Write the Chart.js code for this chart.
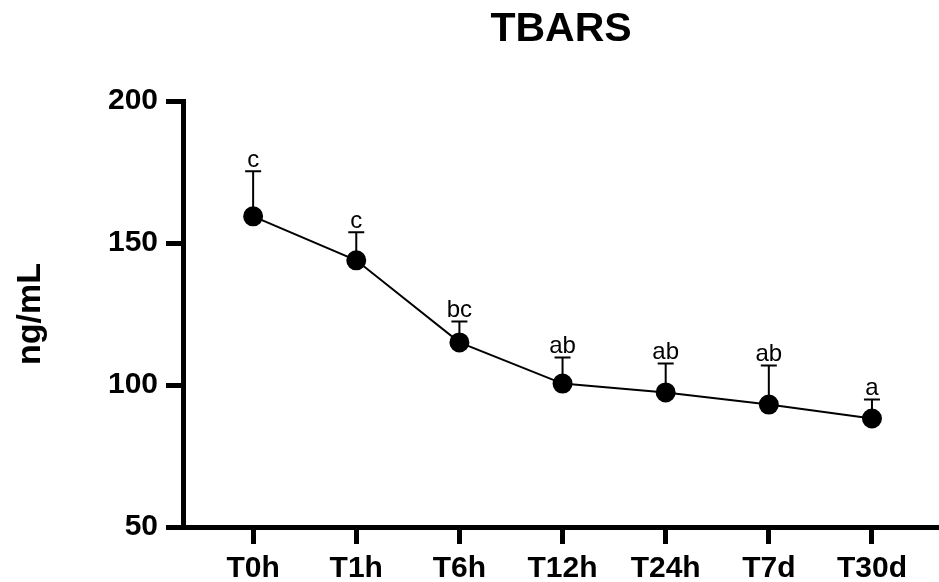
<!DOCTYPE html>
<html>
<head>
<meta charset="utf-8">
<script src="https://cdn.jsdelivr.net/npm/chart.js@4"></script>
<style>
    body { margin: 0; background: #fff; }
    #wrap { width: 939px; height: 582px; }
</style>
</head>
<body>
<div id="wrap"><canvas id="tbars"></canvas></div>
<script>
// values
const timepoints = ['T0h', 'T1h', 'T6h', 'T12h', 'T24h', 'T7d', 'T30d'];
const tbarsMean = [159.4, 143.9, 115.0, 100.5, 97.4, 93.1, 88.2];
const tbarsErr = [15.9, 9.9, 7.4, 9.2, 10.2, 13.8, 6.7];
const groupLetters = ['c', 'c', 'bc', 'ab', 'ab', 'ab', 'a'];
const yTicks = [50, 100, 150, 200];

const points = tbarsMean.map((v, i) => ({ x: i, y: v }));

// error bars (upper only) + letters above them, plus title centred on the plot
const extras = {
    id: 'extras',
    afterDatasetsDraw(chart) {
        const ctx = chart.ctx;
        const xs = chart.scales.x;
        const ys = chart.scales.y;
        ctx.save();
        ctx.strokeStyle = '#000';
        ctx.fillStyle = '#000';
        ctx.lineWidth = 2;
        for (let i = 0; i < tbarsMean.length; i++) {
            const px = xs.getPixelForValue(i);
            const y0 = ys.getPixelForValue(tbarsMean[i]);
            const y1 = ys.getPixelForValue(tbarsMean[i] + tbarsErr[i]);
            ctx.beginPath();
            ctx.moveTo(px, y0);
            ctx.lineTo(px, y1);
            ctx.moveTo(px - 8, y1);
            ctx.lineTo(px + 8, y1);
            ctx.stroke();
            ctx.font = '24px "Liberation Sans", Arial, sans-serif';
            ctx.textAlign = 'center';
            ctx.textBaseline = 'alphabetic';
            ctx.fillText(groupLetters[i], px, y1 - 4);
        }
        const area = chart.chartArea;
        ctx.font = 'bold 41px "Liberation Sans", Arial, sans-serif';
        ctx.textAlign = 'center';
        ctx.textBaseline = 'middle';
        ctx.fillText('TBARS', (area.left + area.right) / 2, 30);
        ctx.restore();
    }
};

new Chart('tbars', {
    type: 'line',
    data: {
        datasets: [{
            data: points,
            borderColor: '#000',
            borderWidth: 2,
            backgroundColor: '#000',
            pointBackgroundColor: '#000',
            pointBorderColor: '#000',
            pointRadius: 9,
            tension: 0,
        }]
    },
    options: {
        responsive: true,
        maintainAspectRatio: false,
        animation: false,
        layout: { autoPadding: false, padding: { top: 101, right: 0, left: 0, bottom: 0 } },
        plugins: { legend: { display: false }, tooltip: { enabled: false } },
        scales: {
            x: {
                type: 'linear',
                min: -0.68,
                max: 6.65,
                afterBuildTicks: scale => {
                    scale.ticks = timepoints.map((t, i) => ({ value: i }));
                },
                afterFit: scale => {
                    scale.height = 55;
                    scale.paddingLeft = 0;
                    scale.paddingRight = 0;
                },
                ticks: {
                    callback: v => timepoints[v],
                    color: '#000',
                    padding: 7,
                    autoSkip: false,
                    maxRotation: 0,
                    font: { family: '"Liberation Sans", Arial', size: 30, weight: 'bold' },
                },
                grid: { drawOnChartArea: false, drawTicks: true, tickLength: 17, tickWidth: 5, tickColor: '#000' },
                border: { display: true, width: 5, color: '#000' },
            },
            y: {
                min: 50,
                max: 200,
                afterBuildTicks: scale => {
                    scale.ticks = yTicks.map(v => ({ value: v }));
                },
                afterFit: scale => {
                    scale.width = 183;
                    scale.paddingTop = 0;
                    scale.paddingBottom = 0;
                },
                ticks: {
                    color: '#000',
                    padding: 8,
                    font: { family: '"Liberation Sans", Arial', size: 30, weight: 'bold' },
                },
                title: {
                    display: true,
                    text: 'ng/mL',
                    color: '#000',
                    padding: { top: 10, bottom: 0 },
                    font: { family: '"Liberation Sans", Arial', size: 34, weight: 'bold' },
                },
                grid: { drawOnChartArea: false, drawTicks: true, tickLength: 17, tickWidth: 5, tickColor: '#000' },
                border: { display: true, width: 5, color: '#000' },
            }
        }
    },
    plugins: [extras]
});
</script>
</body>
</html>
